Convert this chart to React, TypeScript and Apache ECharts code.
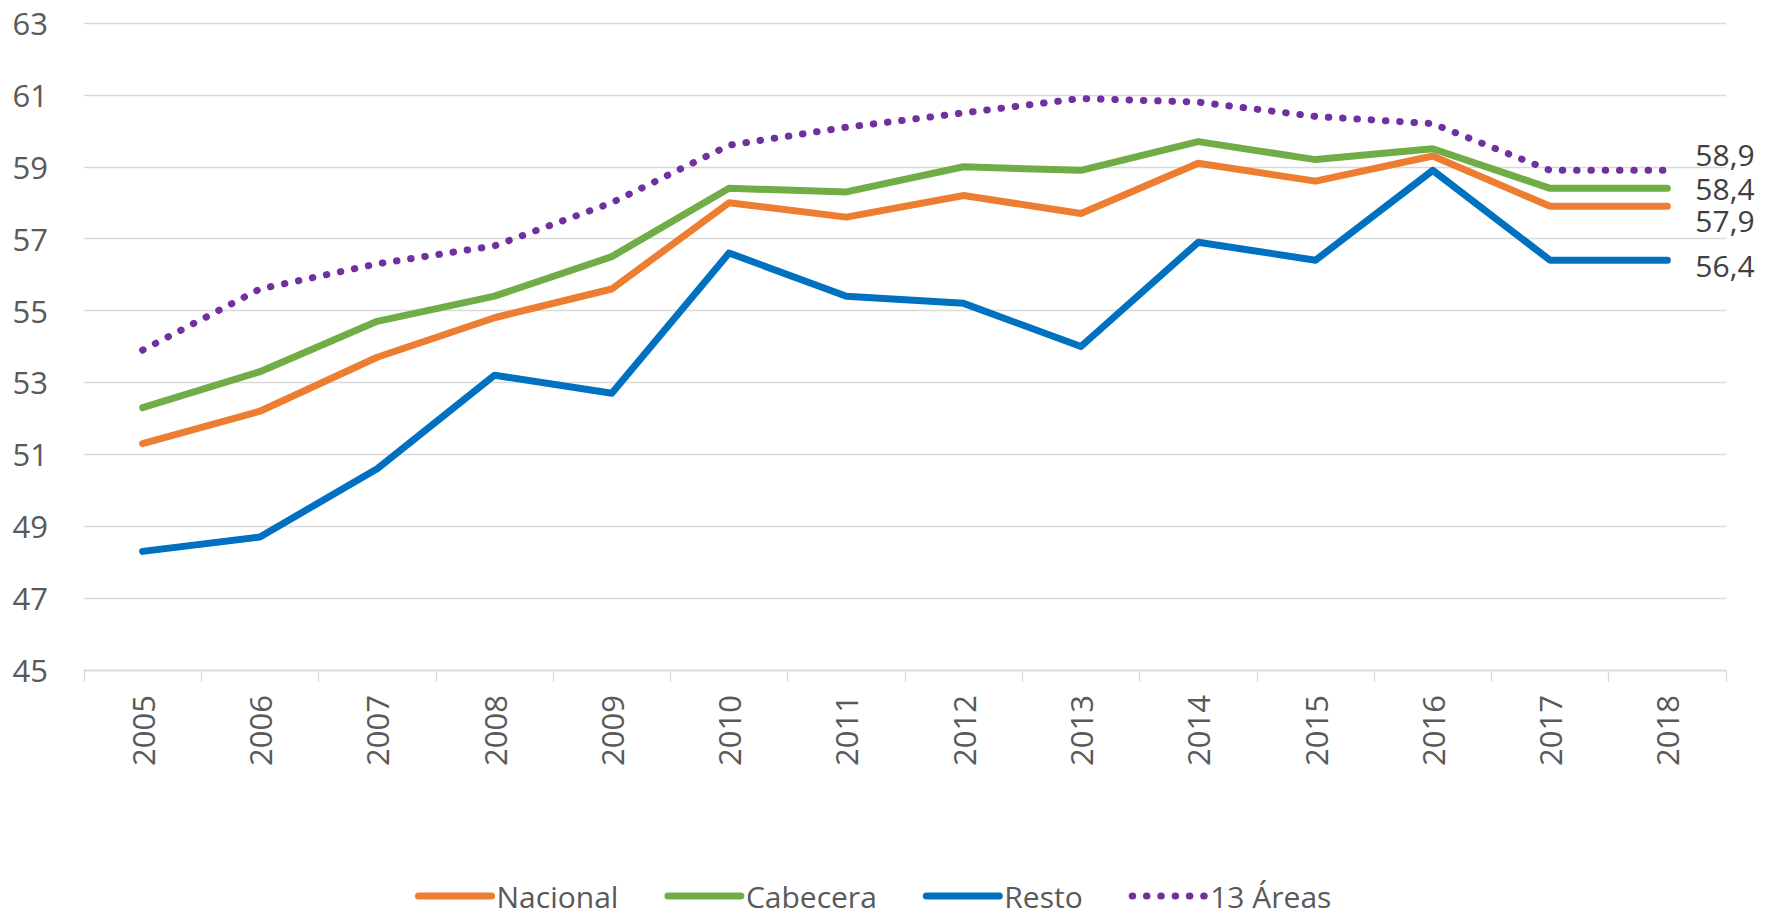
import React, { useEffect, useRef } from "react";
import * as echarts from "echarts";

const years = ["2005", "2006", "2007", "2008", "2009", "2010", "2011", "2012", "2013", "2014", "2015", "2016", "2017", "2018"];
const nacional = [51.3, 52.2, 53.7, 54.8, 55.6, 58.0, 57.6, 58.2, 57.7, 59.1, 58.6, 59.3, 57.9, 57.9];
const cabecera = [52.3, 53.3, 54.7, 55.4, 56.5, 58.4, 58.3, 59.0, 58.9, 59.7, 59.2, 59.5, 58.4, 58.4];
const resto = [48.3, 48.7, 50.6, 53.2, 52.7, 56.6, 55.4, 55.2, 54.0, 56.9, 56.4, 58.9, 56.4, 56.4];
const areas13 = [53.9, 55.6, 56.3, 56.8, 58.0, 59.6, 60.1, 60.5, 60.9, 60.8, 60.4, 60.2, 58.9, 58.9];

const seriesNames = ["Nacional", "Cabecera", "Resto", "13 Áreas"];
const seriesColors = ["#ED7D31", "#70AD47", "#0070C0", "#7030A0"];
const labelOffsets = [14, 0, 5, -16];

const FONT = "'Open Sans', 'Noto Sans', sans-serif";

export default function App() {
  const ref = useRef<HTMLDivElement>(null);

  useEffect(() => {
    document.body.style.margin = "0";
    if (!ref.current) return;
    const chart = echarts.init(ref.current, undefined, { renderer: "svg" });
    const all = [nacional, cabecera, resto, areas13];

    const series = all.map((vals, si) => ({
      name: seriesNames[si],
      type: "line",
      symbol: "none",
      showSymbol: false,
      z: 2 + si,
      lineStyle: {
        color: seriesColors[si],
        width: 7,
        cap: "round",
        join: "round",
        type: si === 3 ? [0.5, 13.8] : "solid",
      },
      itemStyle: { color: seriesColors[si] },
      endLabel: {
        show: true,
        distance: 28,
        offset: [0, labelOffsets[si]],
        color: "#404040",
        fontSize: 30,
        lineHeight: 26,
        fontFamily: FONT,
        formatter: (p: any) => String(p.value).replace(".", ","),
      },
      data: vals,
    }));

    chart.setOption({
      animation: false,
      backgroundColor: "#ffffff",
      grid: { left: 84, right: 53, top: 23, bottom: 245, containLabel: false },
      legend: {
        left: 410,
        top: 876,
        itemWidth: 73,
        itemHeight: 14,
        itemGap: 46,
        lineStyle: { width: 7, cap: "round" },
        itemStyle: { opacity: 0, borderWidth: 0 },
        textStyle: { color: "#595959", fontSize: 30, fontFamily: FONT, lineHeight: 30 },
        data: seriesNames,
      },
      xAxis: {
        type: "category",
        data: years,
        boundaryGap: true,
        axisLine: { show: true, lineStyle: { color: "#D9D9D9", width: 1.3 } },
        axisTick: { show: true, length: 12, alignWithLabel: false, lineStyle: { color: "#D9D9D9", width: 1.3 } },
        axisLabel: { rotate: 90, margin: 25, color: "#595959", fontSize: 31, fontFamily: FONT },
        splitLine: { show: false },
      },
      yAxis: {
        type: "value",
        min: 45,
        max: 63,
        interval: 2,
        axisLine: { show: false },
        axisTick: { show: false },
        axisLabel: { margin: 36, color: "#595959", fontSize: 31, fontFamily: FONT },
        splitLine: { show: true, lineStyle: { color: "#D9D9D9", width: 1.3 } },
      },
      series,
    });

    return () => chart.dispose();
  }, []);

  return <div ref={ref} style={{ width: 1779, height: 915 }} />;
}
